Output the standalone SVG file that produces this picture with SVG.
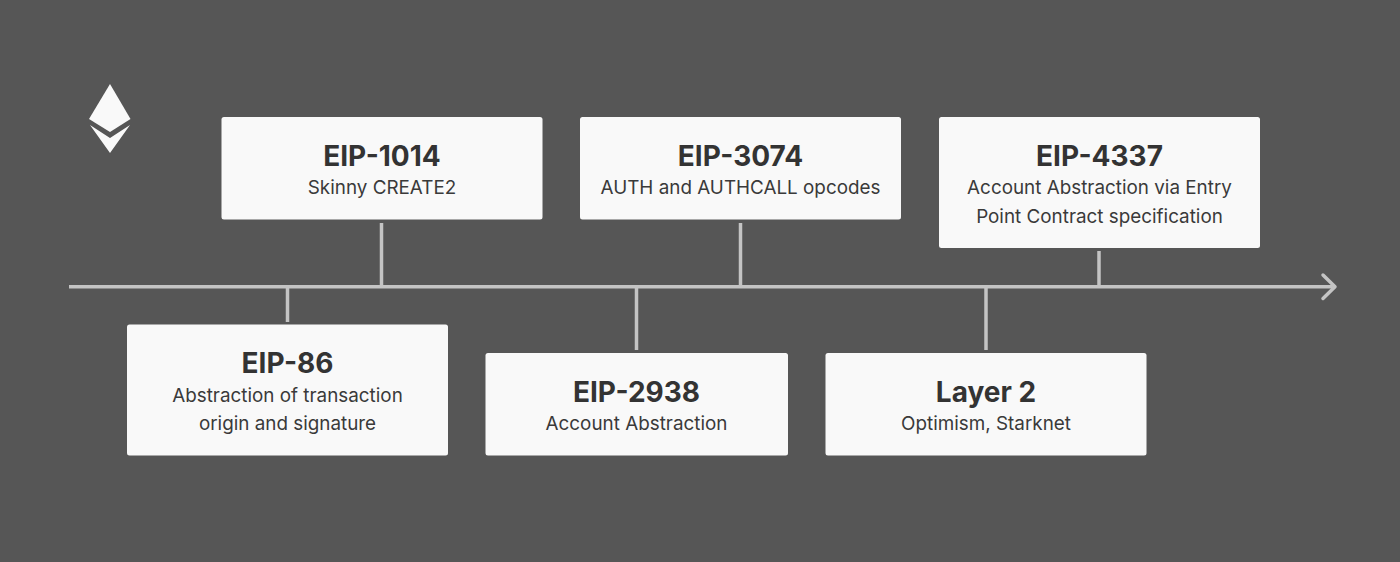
<svg xmlns="http://www.w3.org/2000/svg" width="1400" height="562" viewBox="0 0 1400 562">
<style>
.box{fill:#f9f9f9}
.t{font-family:Inter,"Liberation Sans",sans-serif;font-weight:700;font-size:28px;fill:#333;text-anchor:middle}
.s{font-family:Inter,"Liberation Sans",sans-serif;font-weight:400;font-size:18.85px;fill:#3a3a3a;text-anchor:middle}
.c{stroke:#c4c4c4;stroke-width:3.500;fill:none}
</style>
<rect width="1400" height="562" fill="#565656"/>
<g id="logo" fill="#f9f9f9">
<polygon points="110,84 130.500,119 110,132 89,119"/>
<polygon points="90,125 110,138 130,125 110,153"/>
</g>
<g id="connectors">
<path class="c" d="M69 286.800H1335"/>
<path class="c" stroke-width="4" stroke-linecap="round" stroke-linejoin="round" d="M1323 275L1335 286.800L1323 298.500"/>
<path class="c" d="M287.500 287V322M381.500 223V287M636.500 287V350M740.500 223V287M986 287V350M1099 251V287"/>
</g>
<g id="eip-1014"><rect class="box" x="221.500" y="117" width="321" height="102.500" rx="2.500"/>
<text class="t" x="382" y="166">EIP-1014</text><text class="s" x="382" y="194">Skinny CREATE2</text></g>
<g id="eip-3074"><rect class="box" x="580" y="117" width="321" height="102.500" rx="2.500"/>
<text class="t" x="740.500" y="166">EIP-3074</text><text class="s" x="740.500" y="194">AUTH and AUTHCALL opcodes</text></g>
<g id="eip-4337"><rect class="box" x="939" y="117" width="321" height="131" rx="2.500"/>
<text class="t" x="1099.500" y="166">EIP-4337</text><text class="s" x="1099.500" y="194">Account Abstraction via Entry</text><text class="s" x="1099.500" y="222.500">Point Contract specification</text></g>
<g id="eip-86"><rect class="box" x="127" y="324.500" width="321" height="131" rx="2.500"/>
<text class="t" x="287.500" y="373">EIP-86</text><text class="s" x="287.500" y="401.500">Abstraction of transaction</text><text class="s" x="287.500" y="430">origin and signature</text></g>
<g id="eip-2938"><rect class="box" x="485.500" y="353" width="302.500" height="102.500" rx="2.500"/>
<text class="t" x="636.500" y="401.500">EIP-2938</text><text class="s" x="636.500" y="430">Account Abstraction</text></g>
<g id="layer-2"><rect class="box" x="825.500" y="353" width="321" height="102.500" rx="2.500"/>
<text class="t" x="986" y="401.500">Layer 2</text><text class="s" x="986" y="430">Optimism, Starknet</text></g>
</svg>
